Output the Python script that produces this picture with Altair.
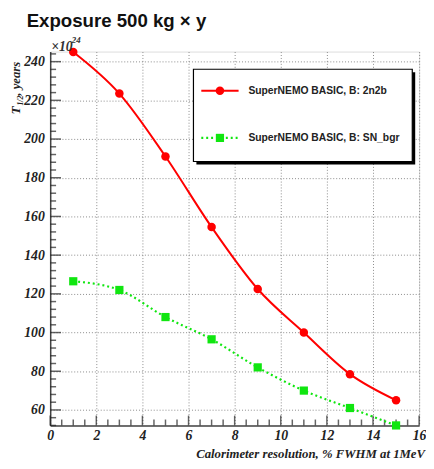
import altair as alt
import pandas as pd

# ---- data ----
resolution = [1, 3, 5, 7, 9, 11, 13, 15]
t_2n2b = [245.0, 223.5, 191.0, 154.5, 122.5, 100.0, 78.5, 65.0]
t_snbgr = [126.5, 122.0, 108.0, 96.5, 82.0, 70.0, 61.0, 52.0]
series_names = ["SuperNEMO BASIC, B: 2n2b", "SuperNEMO BASIC, B: SN_bgr"]
x_major = [0, 2, 4, 6, 8, 10, 12, 14, 16]
x_minor = [v / 2 for v in range(1, 32, 2)] + [v for v in range(1, 16, 2)]
y_major = [60, 80, 100, 120, 140, 160, 180, 200, 220, 240]
y_minor = [v for v in range(52, 246, 4) if v % 20 != 0]

W, H = 376, 381
RED = "#ff0000"
GREEN = "#10e610"
AX = "#222222"

df_red = pd.DataFrame({"x": resolution, "t": t_2n2b})
df_green = pd.DataFrame({"x": resolution, "t": t_snbgr})
one = pd.DataFrame({"a": [0]})

xs = alt.Scale(domain=[0, 16], nice=False, zero=False)
ys = alt.Scale(domain=[52, 245.2], nice=False, zero=False)

lab = dict(labelFont="Liberation Serif", labelFontStyle="italic", labelFontWeight="bold",
           labelFontSize=14, labelColor="#222222", labelFlush=False, labelOverlap=False)

main_x = alt.Axis(orient="bottom", values=x_major, ticks=False, grid=True, gridDash=[1, 2],
                  gridColor="#8a8a8a", gridWidth=1, domainColor="#444444", domainWidth=1.5,
                  labelPadding=3, title=None, format="d", **lab)
main_y = alt.Axis(orient="left", values=y_major, ticks=False, grid=True, gridDash=[1, 2],
                  gridColor="#8a8a8a", gridWidth=1, domainColor="#444444", domainWidth=1.5,
                  labelPadding=6, title=None, format="d", **lab)

red_line = alt.Chart(df_red).mark_line(color=RED, strokeWidth=2, interpolate="monotone").encode(
    x=alt.X("x:Q", scale=xs, axis=main_x),
    y=alt.Y("t:Q", scale=ys, axis=main_y),
)


# inward-pointing ROOT-style ticks, positioned through the shared scales
def xticks(vals, length):
    return alt.Chart(pd.DataFrame({"tx": vals})).mark_tick(
        color=AX, thickness=1.5, size=length, orient="vertical").encode(
        x=alt.X("tx:Q", scale=xs), y=alt.value(H - length / 2))


def yticks(vals, length):
    return alt.Chart(pd.DataFrame({"ty": vals})).mark_tick(
        color=AX, thickness=1.5, size=length, orient="horizontal").encode(
        y=alt.Y("ty:Q", scale=ys), x=alt.value(length / 2))


tick_layers = [xticks(x_major, 10), xticks(x_minor, 6), yticks(y_major, 11), yticks(y_minor, 6)]

red_pts = alt.Chart(df_red).mark_point(filled=True, shape="circle", size=75, color=RED, opacity=1).encode(
    x=alt.X("x:Q", scale=xs),
    y=alt.Y("t:Q", scale=ys),
)
green_line = alt.Chart(df_green).mark_line(color=GREEN, strokeWidth=2.2, strokeDash=[2, 3],
                                           interpolate="monotone").encode(
    x=alt.X("x:Q", scale=xs),
    y=alt.Y("t:Q", scale=ys),
)
green_pts = alt.Chart(df_green).mark_point(filled=True, shape="square", size=70, color=GREEN, opacity=1).encode(
    x=alt.X("x:Q", scale=xs),
    y=alt.Y("t:Q", scale=ys),
)


def txt(s, x, y, size, font="Liberation Serif", style="italic", weight="bold", align="left",
        baseline="alphabetic", angle=0, color="#222222"):
    kw = dict(font=font, fontSize=size, fontStyle=style, fontWeight=weight, align=align,
              baseline=baseline, color=color)
    if angle:
        kw["angle"] = angle
    return alt.Chart(one).mark_text(**kw).encode(
        x=alt.value(x), y=alt.value(y), text=alt.value(s))


title = txt("Exposure 500 kg \u00d7 y", -24, -25, 19, font="Liberation Sans", style="normal",
            color="#111111")
exp1 = txt("\u00d710", 1, -1, 14, weight="bold", color="#333333")
exp2 = txt("24", 22, -9, 9, weight="bold", color="#333333")
yt1 = txt("T", -31, 64, 13.5, angle=270)
yt2 = txt("1/2", -28, 55, 8, angle=270)
yt3 = txt(", years", -31, 45, 13, angle=270)
xtitle = txt("Calorimeter resolution, % FWHM at 1MeV", 382, 414, 13, align="right")

# legend box (drawn by hand, ROOT style)
shadow = alt.Chart(one).mark_rect(color="#000000").encode(
    x=alt.value(149), x2=alt.value(372), y=alt.value(21), y2=alt.value(115))
box = alt.Chart(one).mark_rect(fill="white", stroke="#000000", strokeWidth=1.2).encode(
    x=alt.value(146), x2=alt.value(369), y=alt.value(18), y2=alt.value(112))
leg_red_line = alt.Chart(one).mark_rule(color=RED, strokeWidth=2).encode(
    x=alt.value(154), x2=alt.value(192), y=alt.value(40))
leg_red_pt = alt.Chart(one).mark_point(filled=True, shape="circle", size=75, color=RED, opacity=1).encode(
    x=alt.value(173), y=alt.value(40))
leg_green_line = alt.Chart(one).mark_rule(color=GREEN, strokeWidth=2.2, strokeDash=[2, 3]).encode(
    x=alt.value(154), x2=alt.value(192), y=alt.value(88))
leg_green_pt = alt.Chart(one).mark_point(filled=True, shape="square", size=70, color=GREEN, opacity=1).encode(
    x=alt.value(173), y=alt.value(88))
leg_t1 = txt(series_names[0], 202, 40, 10.5, font="Liberation Sans", style="normal",
             baseline="middle")
leg_t2 = txt(series_names[1], 202, 88, 10.5, font="Liberation Sans", style="normal",
             baseline="middle")

chart = alt.layer(
    red_line, *tick_layers, green_line, red_pts, green_pts,
    shadow, box, leg_red_line, leg_red_pt, leg_green_line, leg_green_pt, leg_t1, leg_t2,
    title, exp1, exp2, yt1, yt2, yt3, xtitle,
).properties(
    width=W, height=H,
    autosize=alt.AutoSizeParams(type="none"),
    padding={"left": 43, "top": 40, "right": 7, "bottom": 40},
).configure_view(stroke="#777777", strokeWidth=1).configure(background="white")

chart.save("out.html", embed_options={"renderer": "svg", "actions": False})
